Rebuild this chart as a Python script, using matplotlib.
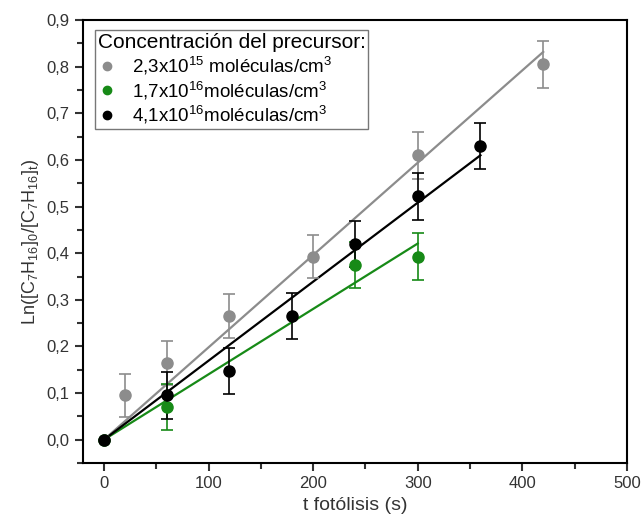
import matplotlib
matplotlib.use("Agg")
import matplotlib.pyplot as plt
from matplotlib.lines import Line2D
from matplotlib.ticker import MultipleLocator, FuncFormatter
import numpy as np

plt.rcParams["font.family"] = ["Liberation Sans", "DejaVu Sans"]
plt.rcParams["mathtext.fontset"] = "custom"
plt.rcParams["mathtext.rm"] = "Liberation Sans"

# Datos
t_gris = [0, 20, 60, 120, 200, 300, 420]
y_gris = [0.0, 0.095, 0.165, 0.265, 0.393, 0.61, 0.805]
e_gris = [0.0, 0.047, 0.047, 0.047, 0.047, 0.05, 0.05]

t_verde = [0, 60, 240, 300]
y_verde = [0.0, 0.07, 0.375, 0.393]
e_verde = [0.0, 0.05, 0.05, 0.05]

t_negro = [0, 60, 120, 180, 240, 300, 360]
y_negro = [0.0, 0.095, 0.147, 0.265, 0.42, 0.522, 0.63]
e_negro = [0.0, 0.05, 0.05, 0.05, 0.05, 0.05, 0.05]

etiquetas = [
    r"2,3x10$^{\mathregular{15}}$ moléculas/cm$^{\mathregular{3}}$",
    r"1,7x10$^{\mathregular{16}}$moléculas/cm$^{\mathregular{3}}$",
    r"4,1x10$^{\mathregular{16}}$moléculas/cm$^{\mathregular{3}}$",
]
colores = ["#8c8c8c", "#178a17", "#000000"]

fig = plt.figure(figsize=(6.41, 5.17), dpi=100)
ax = fig.add_axes([0.1295, 0.1044, 0.8485, 0.8566])

series = [(t_gris, y_gris, e_gris), (t_verde, y_verde, e_verde), (t_negro, y_negro, e_negro)]
handles = []
for (t, y, e), col, lab in zip(series, colores, etiquetas):
    t = np.array(t, dtype=float)
    y = np.array(y)
    # Ajuste lineal por el origen
    m = np.sum(t * y) / np.sum(t * t)
    ax.plot([0, t.max()], [0, m * t.max()], color=col, lw=1.6, zorder=2)
    ax.errorbar(t, y, yerr=e, fmt="o", color=col, ms=8, capsize=4,
                elinewidth=1.2, capthick=1.2, zorder=3)
    handles.append(Line2D([], [], ls="none", marker="o", color=col, ms=6, label=lab))

ax.set_xlim(-20, 500)
ax.set_ylim(-0.05, 0.9)
ax.xaxis.set_major_locator(MultipleLocator(100))
ax.xaxis.set_minor_locator(MultipleLocator(50))
ax.yaxis.set_major_locator(MultipleLocator(0.1))
ax.yaxis.set_minor_locator(MultipleLocator(0.05))
ax.yaxis.set_major_formatter(FuncFormatter(lambda v, p: f"{v:.1f}".replace(".", ",")))
ax.tick_params(which="both", direction="out", width=1.5, labelsize=12, colors="#333333")
ax.tick_params(which="major", length=6)
ax.tick_params(which="minor", length=4)
for s in ax.spines.values():
    s.set_linewidth(1.5)

ax.set_xlabel("t fotólisis (s)", fontsize=14, color="#333333", labelpad=4)
ax.set_ylabel(r"Ln([C$_{\mathregular{7}}$H$_{\mathregular{16}}$]$_{\mathregular{0}}$/[C$_{\mathregular{7}}$H$_{\mathregular{16}}$]$_{\mathregular{t}}$)",
              fontsize=13, color="#333333")

leg = ax.legend(handles=handles, title="Concentración del precursor:", loc="upper left",
                fontsize=13.5, title_fontsize=15, frameon=True, fancybox=False,
                edgecolor="#555555", handlelength=1.0, borderpad=0.15, labelspacing=0.1,
                handletextpad=0.8, borderaxespad=0, bbox_to_anchor=(0.022, 0.977))
leg.get_frame().set_linewidth(1.0)
leg._legend_box.align = "left"

fig.savefig("out.png", dpi=100)
